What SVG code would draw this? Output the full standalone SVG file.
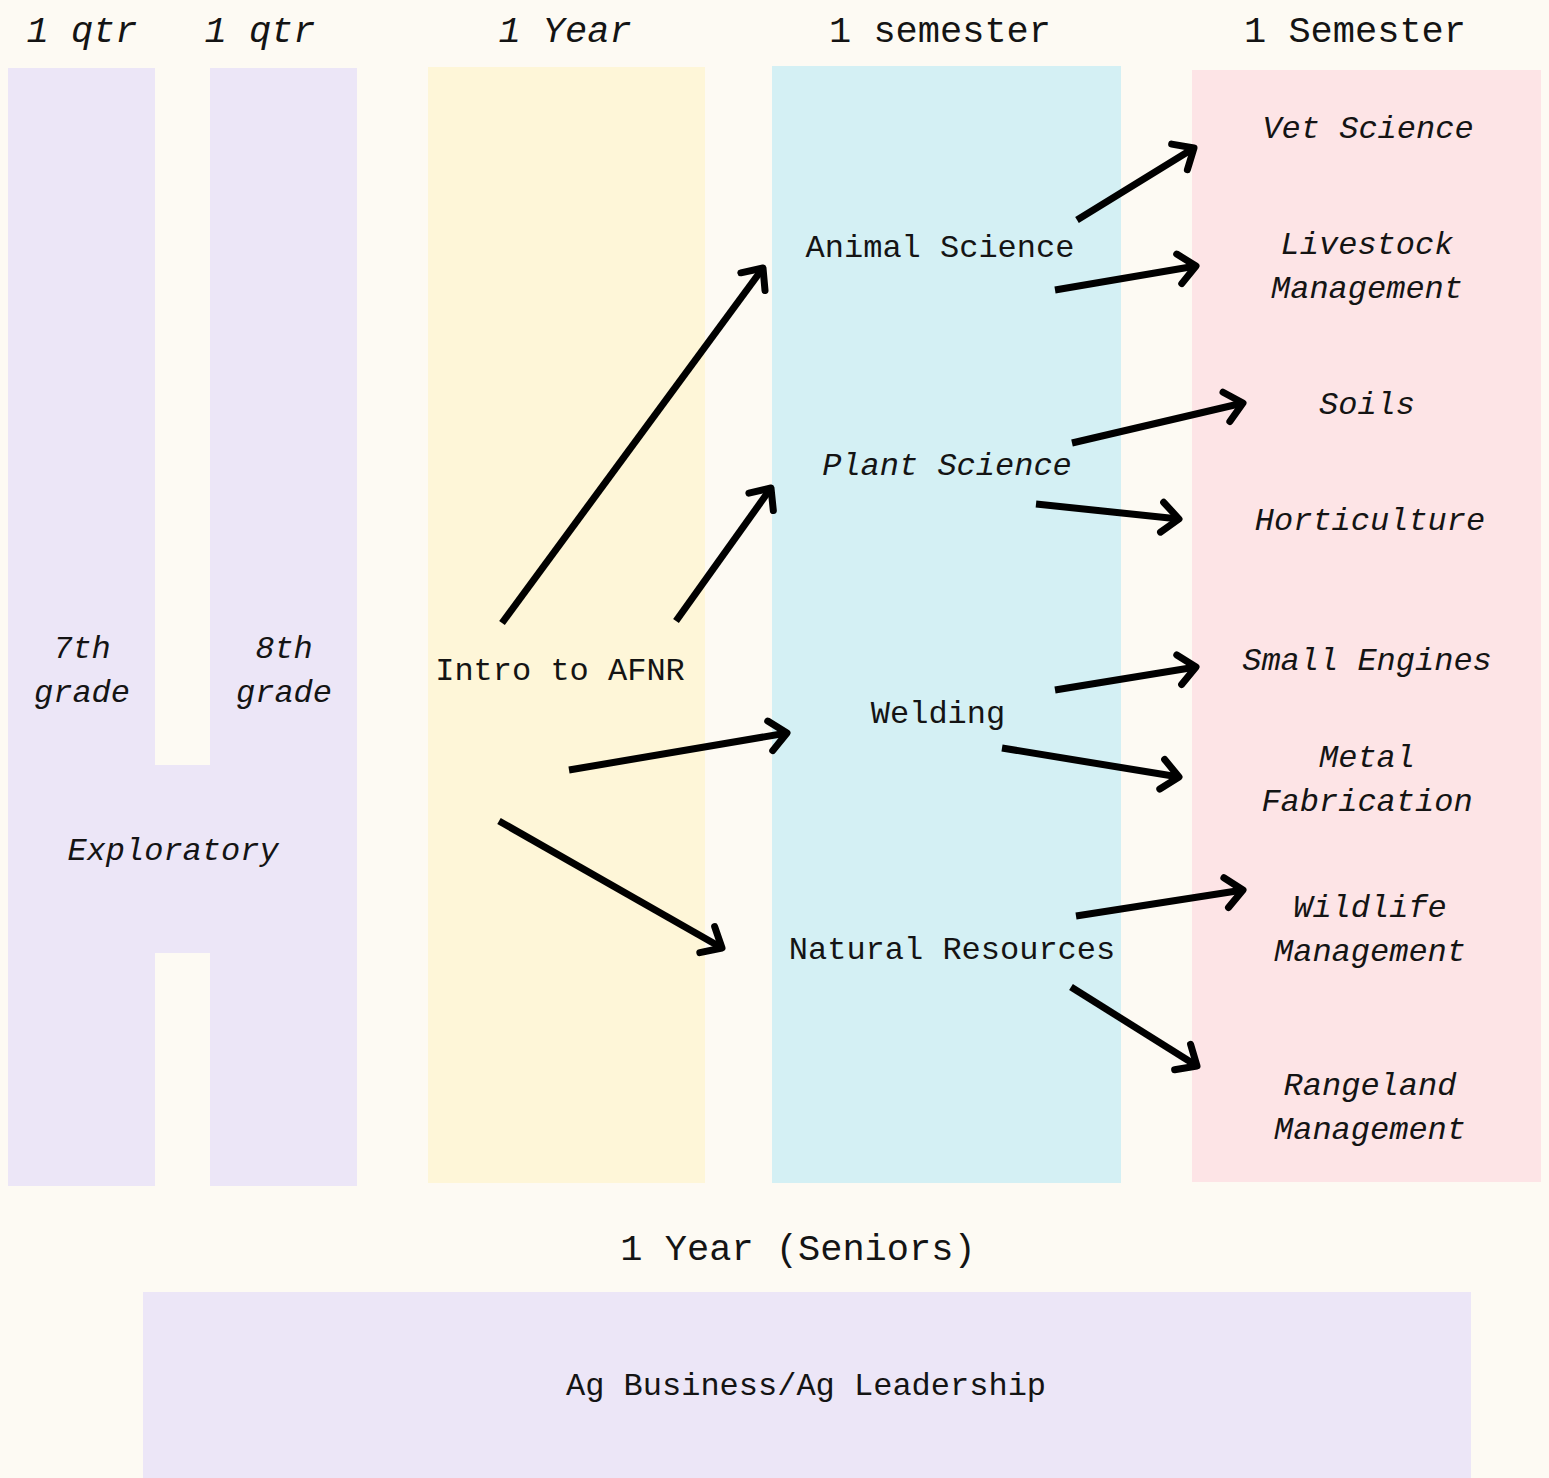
<svg xmlns="http://www.w3.org/2000/svg" width="1549" height="1478" viewBox="0 0 1549 1478">
<defs>
<style>
.t{font-family:"Liberation Mono","DejaVu Sans Mono",monospace;fill:#141414;text-anchor:middle}
.h{font-size:37px}
.b{font-size:32px}
.i{font-style:italic}
.p{fill:#ece6f7}
.y{fill:#fef6d8}
.c{fill:#d4f0f4}
.k{fill:#fde4e6}
.a{stroke:#000;stroke-width:7;fill:none;marker-end:url(#ah)}
</style>
<marker id="ah" markerUnits="userSpaceOnUse" markerWidth="40" markerHeight="40" refX="0" refY="0" orient="auto" overflow="visible">
<path d="M -17 -15 L 0 0 L -17 15" fill="none" stroke="#000" stroke-width="7" stroke-linecap="round" stroke-linejoin="round"/>
</marker>
</defs>
<rect width="1549" height="1478" fill="#fdfaf3"/>

<g id="headers">
<text class="t h i" x="82" y="42">1 qtr</text>
<text class="t h i" x="260" y="42">1 qtr</text>
<text class="t h i" x="565" y="42">1 Year</text>
<text class="t h" x="940" y="42">1 semester</text>
<text class="t h" x="1355" y="42">1 Semester</text>
</g>

<g id="middle-school">
<rect class="p" x="8" y="68" width="147" height="1118"/>
<rect class="p" x="210" y="68" width="147" height="1118"/>
<rect class="p" x="155" y="765" width="55" height="188"/>
</g>
<g id="grade7">
<text class="t b i" x="82" y="658">7th</text>
<text class="t b i" x="82" y="702">grade</text>
</g>
<g id="grade8">
<text class="t b i" x="284" y="658">8th</text>
<text class="t b i" x="284" y="702">grade</text>
</g>
<g id="exploratory">
<text class="t b i" x="173" y="860">Exploratory</text>
</g>

<g id="intro">
<rect class="y" x="428" y="67" width="277" height="1116"/>
<text class="t b" x="560" y="680">Intro to AFNR</text>
</g>

<g id="semester-column">
<rect class="c" x="772" y="66" width="349" height="1117"/>
</g>
<g id="animal-science"><text class="t b" x="940" y="257">Animal Science</text></g>
<g id="plant-science"><text class="t b i" x="947" y="475">Plant Science</text></g>
<g id="welding"><text class="t b" x="938" y="723">Welding</text></g>
<g id="natural-resources"><text class="t b" x="952" y="959">Natural Resources</text></g>

<g id="semester2-column">
<rect class="k" x="1192" y="70" width="349" height="1112"/>
</g>
<g id="vet-science"><text class="t b i" x="1368" y="138">Vet Science</text></g>
<g id="livestock"><text class="t b i" x="1367" y="254">Livestock</text><text class="t b i" x="1367" y="298">Management</text></g>
<g id="soils"><text class="t b i" x="1367" y="414">Soils</text></g>
<g id="horticulture"><text class="t b i" x="1370" y="530">Horticulture</text></g>
<g id="small-engines"><text class="t b i" x="1367" y="670">Small Engines</text></g>
<g id="metal-fab"><text class="t b i" x="1367" y="767">Metal</text><text class="t b i" x="1367" y="811">Fabrication</text></g>
<g id="wildlife"><text class="t b i" x="1370" y="917">Wildlife</text><text class="t b i" x="1370" y="961">Management</text></g>
<g id="rangeland"><text class="t b i" x="1370" y="1095">Rangeland</text><text class="t b i" x="1370" y="1139">Management</text></g>

<g id="seniors">
<text class="t h" x="798" y="1260">1 Year (Seniors)</text>
<rect class="p" x="143" y="1292" width="1328" height="186"/>
<text class="t b" x="806" y="1395">Ag Business/Ag Leadership</text>
</g>

<g id="connectors">
<line class="a" x1="502" y1="623" x2="763" y2="268"/>
<line class="a" x1="676" y1="621" x2="771" y2="488"/>
<line class="a" x1="569" y1="770" x2="787" y2="733"/>
<line class="a" x1="499" y1="821" x2="722" y2="948"/>
<line class="a" x1="1077" y1="220" x2="1194" y2="148"/>
<line class="a" x1="1055" y1="290" x2="1196" y2="266"/>
<line class="a" x1="1072" y1="443" x2="1243" y2="403"/>
<line class="a" x1="1036" y1="504" x2="1179" y2="519"/>
<line class="a" x1="1055" y1="690" x2="1196" y2="667"/>
<line class="a" x1="1002" y1="748" x2="1179" y2="777"/>
<line class="a" x1="1076" y1="916" x2="1243" y2="890"/>
<line class="a" x1="1071" y1="987" x2="1197" y2="1066"/>
</g>
</svg>
